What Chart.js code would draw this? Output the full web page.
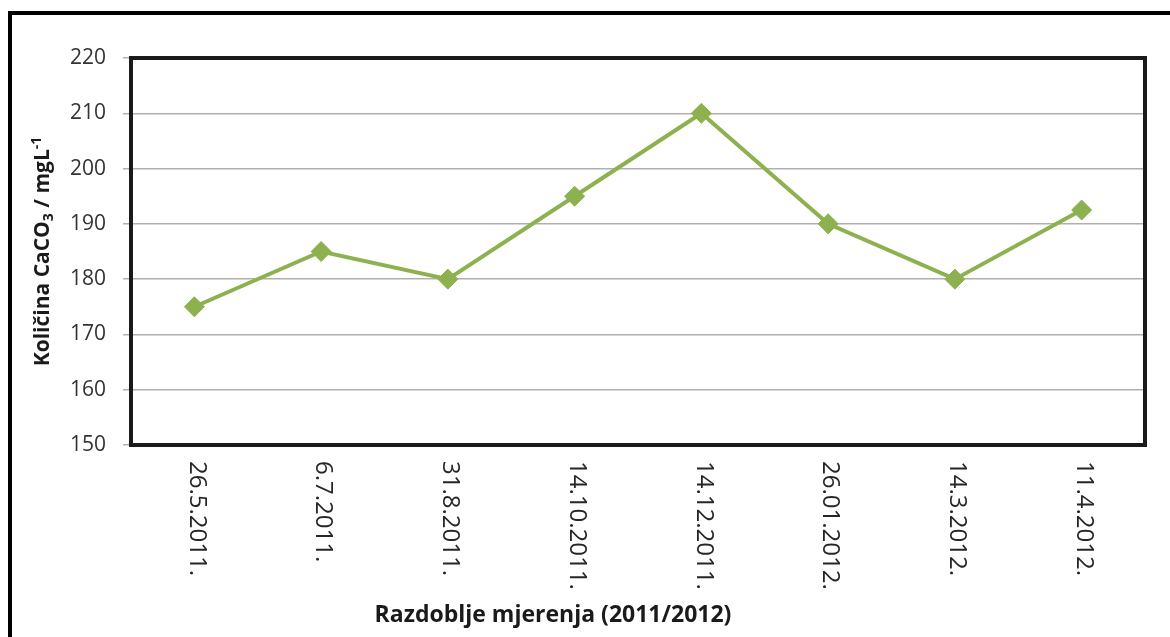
<!DOCTYPE html>
<html>
<head>
<meta charset="utf-8">
<script src="https://cdn.jsdelivr.net/npm/chart.js@4.4.1/dist/chart.umd.min.js"></script>
<style>
  html, body { margin: 0; padding: 0; background: #fff; }
  #wrap { width: 1170px; height: 637px; position: relative; }
</style>
</head>
<body>
<div id="wrap"><canvas id="c" width="1170" height="637"></canvas></div>
<script>
// data
const dates = ["26.5.2011.", "6.7.2011.", "31.8.2011.", "14.10.2011.", "14.12.2011.", "26.01.2012.", "14.3.2012.", "11.4.2012."];
const caco3 = [175, 185, 180, 195, 210, 190, 180, 192.5];
const yTicks = [150, 160, 170, 180, 190, 200, 210, 220];

const xTitle = "Razdoblje mjerenja (2011/2012)";
// y title is drawn in parts so the sub/superscript look right
const yTitleParts = [
  { t: "Količina CaCO", s: 0 },
  { t: "3", s: 1 },
  { t: " / mgL", s: 0 },
  { t: "-1", s: -1 },
];

const green = "#8db14f";

const extras = {
  id: "extras",
  beforeDraw(chart) {
    const ctx = chart.ctx;
    ctx.save();
    ctx.fillStyle = "#ffffff";
    ctx.fillRect(0, 0, chart.width, chart.height);
    // outer frame (only top and left visible)
    ctx.fillStyle = "#000";
    ctx.fillRect(8, 11, chart.width - 8, 4);
    ctx.fillRect(8, 11, 4, chart.height - 11);
    ctx.restore();
  },
  afterDatasetsDraw(chart) {
    const { ctx, chartArea: a } = chart;
    const xs = chart.scales.x;
    ctx.save();
    // plot frame
    ctx.strokeStyle = "#1a1a1a";
    ctx.lineWidth = 4;
    ctx.strokeRect(a.left, a.top, a.right - a.left, a.bottom - a.top);

    // x labels, reading top to bottom
    ctx.fillStyle = "#262626";
    ctx.font = "24px 'Open Sans'";
    ctx.textAlign = "left";
    ctx.textBaseline = "middle";
    dates.forEach((d, i) => {
      const x = xs.getPixelForValue(i);
      ctx.save();
      ctx.translate(x + 2, a.bottom + 16);
      ctx.rotate(Math.PI / 2);
      ctx.fillText(d, 0, 0);
      ctx.restore();
    });

    // x title
    ctx.fillStyle = "#1a1a1a";
    ctx.font = "bold 23px 'Open Sans'";
    ctx.textAlign = "center";
    ctx.textBaseline = "middle";
    ctx.fillText(xTitle, 553, 615);

    // y title
    const big = "bold 21px 'Open Sans'";
    const small = "bold 14px 'Open Sans'";
    let total = 0;
    yTitleParts.forEach(p => {
      ctx.font = p.s ? small : big;
      total += ctx.measureText(p.t).width;
    });
    ctx.save();
    ctx.translate(43, (a.top + a.bottom) / 2);
    ctx.rotate(-Math.PI / 2);
    ctx.textAlign = "left";
    let x = -total / 2;
    yTitleParts.forEach(p => {
      ctx.font = p.s ? small : big;
      ctx.fillText(p.t, x, p.s * 6);
      x += ctx.measureText(p.t).width;
    });
    ctx.restore();
    ctx.restore();
  },
};

new Chart(document.getElementById("c"), {
  type: "line",
  data: {
    labels: dates,
    datasets: [
      {
        label: "CaCO3",
        data: caco3,
        borderColor: green,
        backgroundColor: green,
        borderWidth: 4,
        pointStyle: "rectRot",
        pointRadius: 10,
        pointBorderWidth: 1,
        pointBorderColor: green,
        pointBackgroundColor: green,
        tension: 0,
      },
    ],
  },
  options: {
    responsive: false,
    animation: false,
    layout: { padding: { top: 58, right: 25, bottom: 192, left: 0 } },
    plugins: { legend: { display: false }, tooltip: { enabled: false } },
    scales: {
      x: {
        type: "category",
        offset: true,
        display: false,
      },
      y: {
        min: 150,
        max: 220,
        afterFit(scale) {
          scale.width = 131;
        },
        afterBuildTicks(scale) {
          scale.ticks = yTicks.map(v => ({ value: v }));
        },
        ticks: {
          color: "#333333",
          font: { family: "'Open Sans'", size: 21 },
          padding: 17,
        },
        grid: {
          color: "#b0b0b0",
          lineWidth: 1.5,
          tickLength: 8,
        },
        border: { display: false },
      },
    },
  },
  plugins: [extras],
});
</script>
</body>
</html>
